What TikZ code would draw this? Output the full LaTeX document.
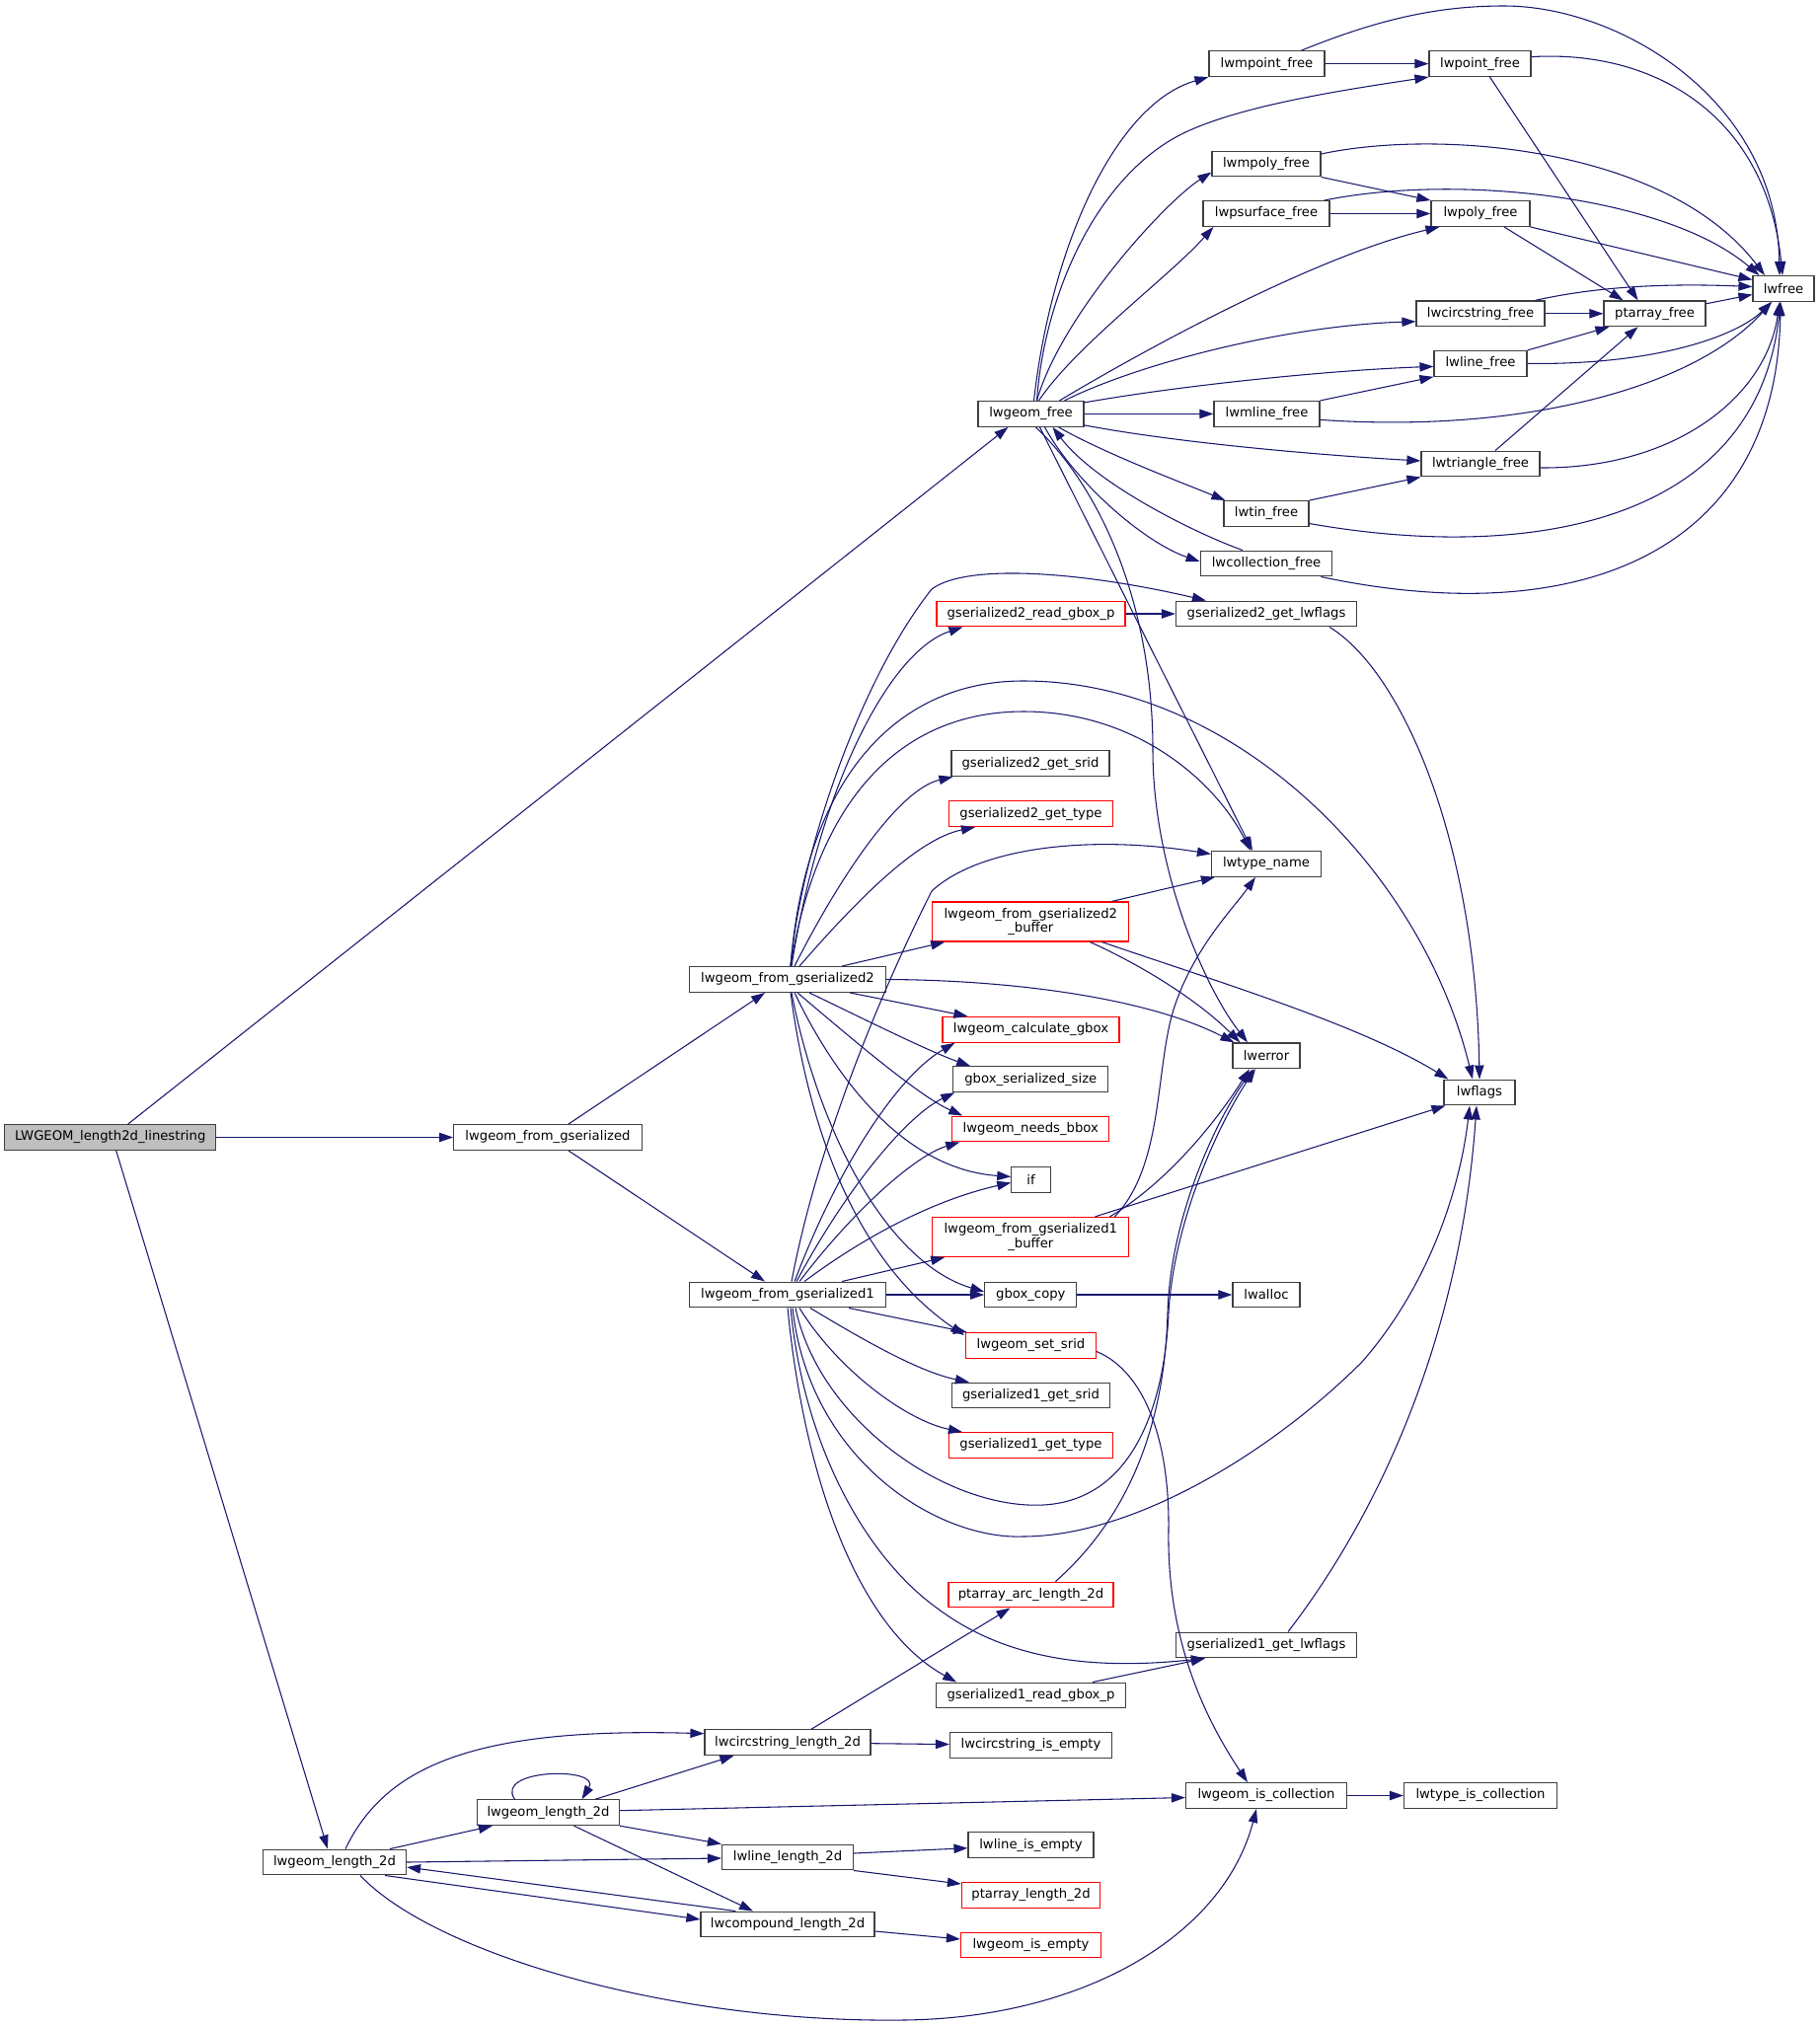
\documentclass[tikz,border=0pt]{standalone}
\usepackage{fontspec}
\setmainfont{DejaVu Sans}
\usetikzlibrary{arrows.meta,calc}
\definecolor{edgec}{HTML}{191970}
\definecolor{bord}{HTML}{404040}
\definecolor{rootfill}{HTML}{BFBFBF}
\begin{document}
\begin{tikzpicture}[x=0.75pt,y=-0.75pt,
  nd/.style={draw=bord, line width=0.9pt, fill=white, minimum height=19.3pt, inner sep=0pt, font=\fontsize{9.9}{11.2}\selectfont, align=center},
  rd/.style={nd, draw=red},
  dbl/.style={minimum height=30pt},
  wd/.style={minimum width={#1*0.75pt}},
  e/.style={draw=edgec, line width=0.8pt, -{Triangle[length=10.5pt,width=7pt]}}]
\fill[white] (0,0) rectangle (1844,2052);
\useasboundingbox (0,0) rectangle (1844,2052);

% ---------- nodes ----------
\node[nd, fill=rootfill, wd=214] (L) at (111.7,1152.5) {LWGEOM\_length2d\_linestring};
\node[nd, wd=190.6] (G) at (555,1152.5) {lwgeom\_from\_gserialized};
\node[nd, wd=199] (G2) at (798,992.5) {lwgeom\_from\_gserialized2};
\node[nd, wd=199] (G1) at (798,1312) {lwgeom\_from\_gserialized1};
\node[nd, wd=107] (F) at (1044.5,419.4) {lwgeom\_free};
\node[nd, wd=117] (mpt) at (1283.5,64.6) {lwmpoint\_free};
\node[nd, wd=103] (pt) at (1499.5,64.6) {lwpoint\_free};
\node[nd, wd=110] (mpoly) at (1283,166) {lwmpoly\_free};
\node[nd, wd=128] (psurf) at (1283,216.5) {lwpsurface\_free};
\node[nd, wd=100] (poly) at (1500,216.5) {lwpoly\_free};
\node[nd, wd=62] (lwfree) at (1807,292.5) {lwfree};
\node[nd, wd=130] (circf) at (1500,317.8) {lwcircstring\_free};
\node[nd, wd=103] (ptaf) at (1676.5,317.8) {ptarray\_free};
\node[nd, wd=94] (linef) at (1500,368.4) {lwline\_free};
\node[nd, wd=107] (mlinef) at (1283.5,419.4) {lwmline\_free};
\node[nd, wd=120] (trif) at (1500,470) {lwtriangle\_free};
\node[nd, wd=86] (tinf) at (1283,520.5) {lwtin\_free};
\node[nd, wd=133.5] (collf) at (1283,571) {lwcollection\_free};
\node[nd, wd=183] (g2lwf) at (1283,622) {gserialized2\_get\_lwflags};
\node[rd, wd=191] (g2rbox) at (1044.5,622) {gserialized2\_read\_gbox\_p};
\node[nd, wd=160] (g2srid) at (1044,773.7) {gserialized2\_get\_srid};
\node[rd, wd=166] (g2type) at (1044.5,824.7) {gserialized2\_get\_type};
\node[nd, wd=111] (tname) at (1283,875.4) {lwtype\_name};
\node[rd, dbl, wd=199] (g2buf) at (1044.3,934) {lwgeom\_from\_gserialized2\\\_buffer};
\node[rd, wd=179] (calc) at (1044.5,1043.3) {lwgeom\_calculate\_gbox};
\node[nd, wd=68] (lwerr) at (1283,1069.8) {lwerror};
\node[nd, wd=157] (gbss) at (1044.3,1093.7) {gbox\_serialized\_size};
\node[nd, wd=72] (lwflags) at (1499,1107) {lwflags};
\node[rd, wd=159] (needs) at (1044.3,1144) {lwgeom\_needs\_bbox};
\node[nd, wd=39.3] (ifn) at (1044.5,1195.4) {if};
\node[rd, dbl, wd=199] (g1buf) at (1044.3,1253.5) {lwgeom\_from\_gserialized1\\\_buffer};
\node[nd, wd=93] (gcopy) at (1044.3,1312) {gbox\_copy};
\node[nd, wd=68] (lwalloc) at (1283,1312) {lwalloc};
\node[rd, wd=132] (setsrid) at (1044.5,1363.5) {lwgeom\_set\_srid};
\node[nd, wd=160] (g1srid) at (1044.5,1414) {gserialized1\_get\_srid};
\node[rd, wd=166] (g1type) at (1044.5,1464.5) {gserialized1\_get\_type};
\node[rd, wd=167] (ptarc) at (1044.5,1616) {ptarray\_arc\_length\_2d};
\node[nd, wd=183] (g1lwf) at (1283,1667) {gserialized1\_get\_lwflags};
\node[nd, wd=191.5] (g1rbox) at (1044.5,1718) {gserialized1\_read\_gbox\_p};
\node[nd, wd=168] (circl) at (798,1765.7) {lwcircstring\_length\_2d};
\node[nd, wd=164] (circe) at (1044.5,1768.5) {lwcircstring\_is\_empty};
\node[nd, wd=144] (ll2) at (555.5,1836.7) {lwgeom\_length\_2d};
\node[nd, wd=163] (iscoll) at (1283,1819.5) {lwgeom\_is\_collection};
\node[nd, wd=155] (typecoll) at (1500,1819.5) {lwtype\_is\_collection};
\node[nd, wd=127] (lineemp) at (1044.5,1869.7) {lwline\_is\_empty};
\node[nd, wd=145] (ll1) at (339,1887) {lwgeom\_length\_2d};
\node[nd, wd=133] (linel) at (798,1882) {lwline\_length\_2d};
\node[rd, wd=140] (ptal) at (1044.5,1920.5) {ptarray\_length\_2d};
\node[nd, wd=176] (compl) at (798,1950) {lwcompound\_length\_2d};
\node[rd, wd=142] (geomemp) at (1044.5,1971) {lwgeom\_is\_empty};

% ---------- edges ----------
% root
\draw[e] ($(L.north)+(18,0)$) -- ($(F.south west)+(31,0)$);
\draw[e] (L) -- (G);
\draw[e] ($(L.south)+(6,0)$) -- ($(ll1.north)-(7,0)$);
\draw[e] ($(G.north)+(21,0)$) -- ($(G2.south)-(23,0)$);
\draw[e] ($(G.south)+(21,0)$) -- ($(G1.north)-(23,0)$);

% lwgeom_free
\draw[e] ($(F.north)+(3,0)$) .. controls (1065,250) and (1130,105) .. (mpt.south west);
\draw[e] ($(F.north)+(6,0)$) .. controls (1058,300) and (1110,180) .. (1197,136) .. controls (1257,106) and (1370,90) .. (pt.south west);
\draw[e] ($(F.north)+(6,0)$) .. controls (1075,320) and (1180,205) .. ($(mpoly.south west)+(0,-5)$);
\draw[e] ($(F.north)+(8,0)$) .. controls (1090,350) and (1185,280) .. ($(psurf.south west)+(11,0)$);
\draw[e] ($(F.north)+(29,0)$) .. controls (1150,360) and (1330,260) .. ($(poly.south west)+(9,0)$);
\draw[e] ($(F.north)+(34,0)$) .. controls (1150,370) and (1300,330) .. ($(circf.west)+(0,8)$);
\draw[e] ($(F.north east)+(0,2)$) .. controls (1200,390) and (1350,375) .. ($(linef.west)+(0,3)$);
\draw[e] (F) -- (mlinef);
\draw[e] ($(F.south east)+(0,-2)$) .. controls (1200,450) and (1350,462) .. ($(trif.west)+(0,-3)$);
\draw[e] ($(F.south)+(28,0)$) .. controls (1120,460) and (1200,490) .. ($(tinf.north west)+(2,0)$);
\draw[e] ($(F.south)+(14,0)$) .. controls (1090,490) and (1160,550) .. ($(collf.west)+(0,-2)$);
\draw[e] ($(collf.north)+(-24,0)$) .. controls (1210,540) and (1110,490) .. ($(F.south)+(22,0)$);
\draw[e] ($(F.south)+(9,0)$) -- ($(tname.north)-(14,0)$);
\draw[e] ($(F.south)+(5,0)$) .. controls (1120,500) and (1168,620) .. (1168,760) .. controls (1168,880) and (1220,1000) .. ($(lwerr.north)-(19,0)$);

% free functions
\draw[e] (mpt) -- (pt);
\draw[e] ($(mpt.north)+(35,0)$) .. controls (1400,18) and (1460,6) .. (1524,6) .. controls (1640,6) and (1800,100) .. ($(lwfree.north)-(4,0)$);
\draw[e] ($(pt.east)+(0,-7)$) .. controls (1680,50) and (1790,120) .. ($(lwfree.north)-(1,0)$);
\draw[e] ($(pt.south)+(10,0)$) -- ($(ptaf.north)-(17,0)$);
\draw[e] ($(mpoly.east)+(0,-10)$) .. controls (1460,130) and (1690,150) .. ($(lwfree.north)-(19,0)$);
\draw[e] (mpoly.south east) -- (poly.north west);
\draw[e] (psurf) -- (poly);
\draw[e] ($(psurf.north east)+(-6,0)$) .. controls (1480,175) and (1690,200) .. ($(lwfree.north west)+(7,0)$);
\draw[e] (poly.south east) -- ($(lwfree.west)+(0,-9)$);
\draw[e] ($(poly.south)+(24,0)$) -- ($(ptaf.north)-(32,0)$);
\draw[e] (circf) -- (ptaf);
\draw[e] ($(circf.north east)+(-10,0)$) .. controls (1620,290) and (1690,287) .. ($(lwfree.west)+(0,-2)$);
\draw[e] ($(ptaf.east)+(0,-10)$) -- ($(lwfree.west)+(0,6)$);
\draw[e] (linef.north east) -- ($(ptaf.south west)+(6,0)$);
\draw[e] (linef.east) .. controls (1680,370) and (1760,340) .. ($(lwfree.south)-(12,0)$);
\draw[e] (mlinef.north east) -- (linef.south west);
\draw[e] ($(mlinef.east)+(0,6)$) .. controls (1550,440) and (1720,390) .. ($(lwfree.south)-(12,0)$);
\draw[e] ($(trif.north)+(15,0)$) -- ($(ptaf.south)-(17,0)$);
\draw[e] ($(trif.east)+(0,4)$) .. controls (1700,475) and (1790,400) .. ($(lwfree.south)-(4,0)$);
\draw[e] (tinf.north east) -- (trif.south west);
\draw[e] ($(tinf.east)+(0,10)$) .. controls (1550,570) and (1780,530) .. ($(lwfree.south)-(3,0)$);
\draw[e] ($(collf.south east)+(-12,0)$) .. controls (1600,640) and (1800,560) .. ($(lwfree.south)-(3,0)$);

% lwgeom_from_gserialized2
\draw[e] ($(G2.north)+(3,0)$) .. controls (810,870) and (870,690) .. (944,597) .. controls (980,570) and (1100,580) .. ($(g2lwf.north west)+(31,0)$);
\draw[e] ($(G2.north)+(4,0)$) .. controls (830,800) and (900,660) .. ($(g2rbox.south west)+(27,0)$);
\draw[e] ($(G2.north)+(3,0)$) .. controls (815,800) and (900,690) .. (1037,690) .. controls (1250,690) and (1440,880) .. ($(lwflags.north)-(7,0)$);
\draw[e] ($(G2.north)+(3,0)$) .. controls (830,800) and (920,721) .. (1037,721) .. controls (1150,721) and (1230,790) .. ($(tname.north)-(16,0)$);
\draw[e] ($(G2.north)+(7,0)$) .. controls (850,890) and (910,800) .. ($(g2srid.south west)+(2,0)$);
\draw[e] ($(G2.north)+(12,0)$) .. controls (870,910) and (930,850) .. ($(g2type.south west)+(27,0)$);
\draw[e] ($(G2.north)+(55,0)$) -- ($(g2buf.south west)+(13,0)$);
\draw[e] (G2.east) .. controls (1020,993) and (1160,1010) .. ($(lwerr.north west)+(2,0)$);
\draw[e] ($(G2.south)+(63,0)$) -- ($(calc.north west)+(26,0)$);
\draw[e] ($(G2.south)+(22,0)$) .. controls (870,1030) and (940,1065) .. ($(gbss.north west)+(18,0)$);
\draw[e] ($(G2.south)+(10,0)$) .. controls (860,1050) and (930,1110) .. ($(needs.north west)+(11,0)$);
\draw[e] ($(G2.south)+(7,0)$) .. controls (850,1100) and (920,1185) .. ($(ifn.west)+(0,-3)$);
\draw[e] ($(G2.south)+(4,0)$) .. controls (830,1150) and (900,1280) .. ($(gcopy.west)+(0,-3)$);
\draw[e] ($(G2.south)+(3,0)$) .. controls (820,1150) and (870,1280) .. ($(setsrid.north west)+(-1,3)$);

% lwgeom_from_gserialized1
\draw[e] ($(G1.north)+(4,0)$) .. controls (830,1150) and (900,990) .. (944,903) .. controls (990,860) and (1100,845) .. ($(tname.west)+(0,-10)$);
\draw[e] ($(G1.north)+(7,0)$) .. controls (850,1180) and (910,1090) .. ($(calc.south west)+(13,0)$);
\draw[e] ($(G1.north)+(9,0)$) .. controls (860,1200) and (920,1130) .. ($(gbss.south west)+(2,0)$);
\draw[e] ($(G1.north)+(12,0)$) .. controls (870,1220) and (930,1170) .. ($(needs.south west)+(8,0)$);
\draw[e] ($(G1.north)+(17,0)$) .. controls (880,1250) and (950,1215) .. ($(ifn.west)+(0,3)$);
\draw[e] ($(G1.north)+(55,0)$) -- ($(g1buf.south west)+(13,0)$);
\draw[e] (G1) -- (gcopy);
\draw[e] ($(G1.south)+(62,0)$) -- ($(setsrid.north west)+(2,0)$);
\draw[e] ($(G1.south)+(23,0)$) .. controls (870,1355) and (930,1390) .. ($(g1srid.north west)+(18,0)$);
\draw[e] ($(G1.south)+(12,0)$) .. controls (850,1390) and (920,1440) .. ($(g1type.north west)+(14,0)$);
\draw[e] ($(G1.south)+(8,0)$) .. controls (830,1440) and (960,1530) .. (1057,1525) .. controls (1150,1520) and (1180,1420) .. (1184,1330) .. controls (1190,1230) and (1240,1130) .. ($(lwerr.south)-(11,0)$);
\draw[e] ($(G1.south)+(5,0)$) .. controls (820,1480) and (950,1560) .. (1036,1557) .. controls (1150,1557) and (1290,1470) .. (1380,1380) .. controls (1450,1300) and (1480,1200) .. ($(lwflags.south)-(10,0)$);
\draw[e] ($(G1.south)+(3,0)$) .. controls (815,1470) and (880,1580) .. (950,1630) .. controls (1030,1690) and (1130,1690) .. ($(g1lwf.south west)+(30,0)$);
\draw[e] (G1.south) .. controls (815,1500) and (870,1650) .. ($(g1rbox.north west)+(21,0)$);
\draw[e] ($(g1rbox.north east)+(-34,0)$) -- ($(g1lwf.south west)+(30,0)$);

% buffers and helpers
\draw[e] ($(g2buf.north east)+(-18,0)$) -- ($(tname.south west)+(4,0)$);
\draw[e] ($(g2buf.south east)+(-40,0)$) .. controls (1150,975) and (1210,1010) .. ($(lwerr.north west)+(8,0)$);
\draw[e] ($(g2buf.south east)+(-28,0)$) .. controls (1250,1000) and (1380,1040) .. ($(lwflags.north west)+(5,0)$);
\draw[e] ($(g1buf.north east)+(-15,0)$) .. controls (1180,1180) and (1170,1080) .. (1190,1020) .. controls (1210,960) and (1250,920) .. ($(tname.south)-(11,0)$);
\draw[e] ($(g1buf.north east)+(-20,0)$) .. controls (1180,1200) and (1230,1140) .. ($(lwerr.south)-(17,0)$);
\draw[e] ($(g1buf.north east)+(-35,0)$) -- ($(lwflags.south west)+(2,0)$);
\draw[e] (g2rbox) -- (g2lwf);
\draw[e] ($(g2lwf.south east)+(-28,0)$) .. controls (1420,680) and (1495,850) .. (lwflags.north);
\draw[e] (gcopy) -- (lwalloc);
\draw[e] ($(setsrid.east)+(0,6)$) .. controls (1160,1390) and (1185,1460) .. (1184,1550) .. controls (1182,1660) and (1220,1740) .. ($(iscoll.north)-(19,0)$);
\draw[e] ($(ptarc.north)+(25,0)$) .. controls (1140,1540) and (1180,1450) .. (1183,1330) .. controls (1186,1230) and (1235,1130) .. ($(lwerr.south)-(13,0)$);
\draw[e] ($(g1lwf.north)+(22,0)$) .. controls (1400,1530) and (1480,1350) .. ($(lwflags.south)-(3,0)$);

% length functions
\draw[e] ($(circl.north)+(24,0)$) -- ($(ptarc.south)-(21,0)$);
\draw[e] (circl) -- (circe);
\draw[e] ($(ll2.north)+(-34,0)$) .. controls (500,1792) and (610,1790) .. ($(ll2.north)+(34,0)$);
\draw[e] ($(ll2.north east)+(-25,0)$) -- ($(circl.south west)+(30,0)$);
\draw[e] ($(ll2.east)+(0,-2)$) -- ($(iscoll.west)+(0,2)$);
\draw[e] (ll2.south east) -- (linel.north west);
\draw[e] ($(ll2.south)+(26,0)$) -- ($(compl.north)-(35,0)$);
\draw[e] ($(ll1.north)+(11,0)$) .. controls (390,1790) and (480,1750) .. ($(circl.west)+(0,-9)$);
\draw[e] ($(ll1.north east)+(-17,0)$) -- ($(ll2.south west)+(16,0)$);
\draw[e] (ll1.east) -- ($(linel.west)+(0,1)$);
\draw[e] ($(ll1.south east)+(-22,0)$) -- ($(compl.west)+(0,-5)$);
\draw[e] ($(compl.north west)+(36,0)$) -- ($(ll1.east)+(0,5)$);
\draw[e] ($(ll1.south)+(26,0)$) .. controls (440,1980) and (680,2050) .. (915,2047) .. controls (1100,2045) and (1240,1960) .. ($(iscoll.south)-(10,0)$);
\draw[e] ($(compl.east)+(0,7)$) -- ($(geomemp.west)+(0,-6)$);
\draw[e] ($(linel.east)+(0,-4)$) -- ($(lineemp.west)+(0,3)$);
\draw[e] (linel.south east) -- ($(ptal.north west)+(0,2)$);
\draw[e] (iscoll) -- (typecoll);
\end{tikzpicture}
\end{document}
